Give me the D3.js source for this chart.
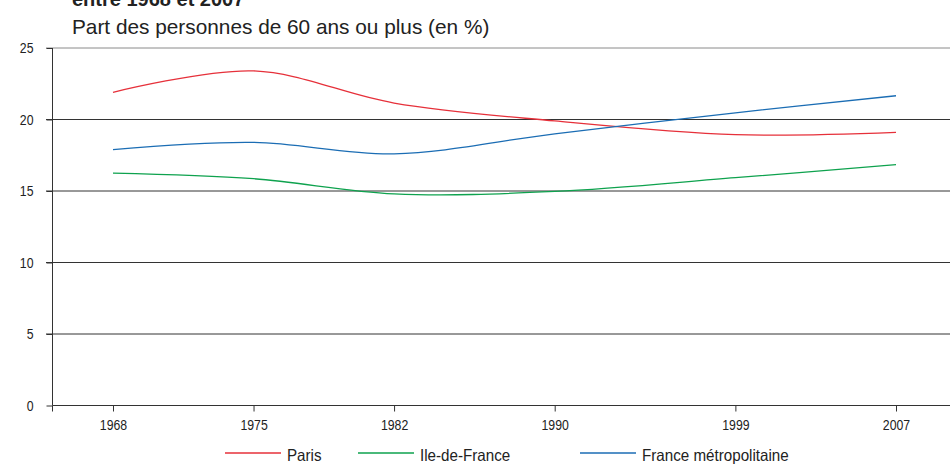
<!DOCTYPE html>
<html><head><meta charset="utf-8">
<script src="https://cdn.jsdelivr.net/npm/d3@7"></script>
<style>
body{margin:0;background:#fff;}
svg{display:block;}
text{fill:#222;}
</style></head>
<body>
<svg id="chart" width="950" height="464"></svg>
<script>
const years = [1968, 1975, 1982, 1990, 1999, 2007];
const yTicks = [0, 5, 10, 15, 20, 25];
const paris = [21.9, 23.4, 21.15, 19.9, 18.94, 19.1];
const idf = [16.25, 15.86, 14.8, 14.97, 15.93, 16.85];
const france = [17.9, 18.4, 17.6, 19.0, 20.47, 21.66];
const seriesNames = ["Paris", "Ile-de-France", "France métropolitaine"];
const seriesColors = ["#e6303a", "#0ea24e", "#1b6db4"];
const titleText = "entre 1968 et 2007";
const subtitleText = "Part des personnes de 60 ans ou plus (en %)";

const svg = d3.select("#chart");
const font = "'Liberation Sans', Arial, sans-serif";
const sx = 0.82;   // condensed look of the original labels

const x = d3.scaleLinear().domain([1968, 2007]).range([113, 896]);
const y = d3.scaleLinear().domain([0, 25]).range([405.5, 48]);
const left = 52.5, right = 950;

// titles
svg.append("text").attr("x", 72).attr("y", 6).attr("font-family", font)
  .attr("font-weight", "bold").attr("font-size", 20).text(titleText);
svg.append("text").attr("x", 72).attr("y", 34).attr("font-family", font)
  .attr("font-size", 20.8).text(subtitleText);

// gridlines
svg.append("g").selectAll("line").data(yTicks.filter(d => d > 0)).join("line")
  .attr("x1", 46).attr("x2", right).attr("y1", d => y(d)).attr("y2", d => y(d))
  .attr("stroke", d => d === 25 ? "#8a8a8a" : "#333").attr("stroke-width", 1);

// y axis
const yAxis = svg.append("g").attr("transform", `translate(${left},0)`)
  .call(d3.axisLeft(y).tickValues(yTicks).tickSize(6).tickFormat(d3.format("d")));
yAxis.select(".domain").attr("stroke", "#333").attr("d", `M0,${y(25)}V${y(0)}`);
yAxis.selectAll(".tick line").attr("stroke", "#333");
yAxis.selectAll("text").attr("font-family", font).attr("font-size", 15).attr("fill", "#222")
  .attr("x", -19 / sx).attr("transform", `scale(${sx},1)`);

// x axis
const xAxis = svg.append("g").attr("transform", `translate(0,${y(0)})`)
  .call(d3.axisBottom(x).tickValues(years).tickSize(6).tickPadding(8).tickFormat(d3.format("d")));
xAxis.select(".domain").attr("stroke", "#333").attr("d", `M${left},0H${right}`);
xAxis.selectAll(".tick line").attr("stroke", "#333");
xAxis.selectAll("text").attr("font-family", font).attr("font-size", 15).attr("fill", "#222")
  .attr("transform", `scale(${sx},1)`);
xAxis.append("line").attr("x1", left).attr("x2", left).attr("y1", 0).attr("y2", 6).attr("stroke", "#333");

// lines
const data = [paris, idf, france];
const line = d3.line().x((d, i) => x(years[i])).y(d => y(d)).curve(d3.curveCatmullRom.alpha(0.5));
svg.append("g").selectAll("path").data(data).join("path")
  .attr("d", d => line(d)).attr("fill", "none")
  .attr("stroke", (d, i) => seriesColors[i]).attr("stroke-width", 1.3);

// legend
const lsx = 0.92;
const legendX = [225, 358, 580];
const lg = svg.append("g").selectAll("g").data(seriesNames).join("g")
  .attr("transform", (d, i) => `translate(${legendX[i]},453)`);
lg.append("line").attr("x1", 0).attr("x2", 56).attr("y1", 0).attr("y2", 0)
  .attr("stroke", (d, i) => seriesColors[i]).attr("stroke-width", 1.3);
lg.append("text").attr("x", 62 / lsx).attr("y", 8).attr("font-family", font)
  .attr("transform", `scale(${lsx},1)`)
  .attr("font-size", 16.5).attr("fill", "#222").text(d => d);
</script>
</body></html>
